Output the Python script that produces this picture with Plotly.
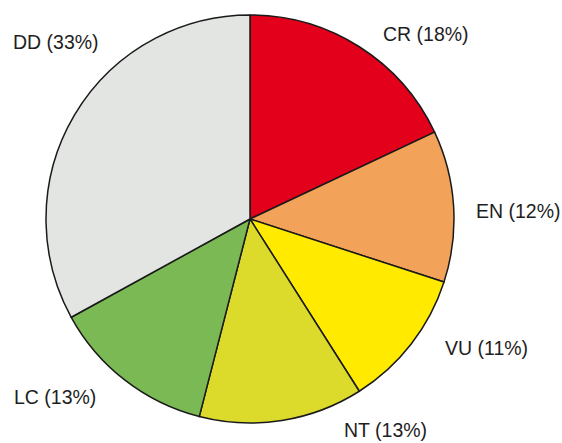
import plotly.graph_objects as go

categories = ["CR", "EN", "VU", "NT", "LC", "DD"]
values = [18, 12, 11, 13, 13, 33]
colors = ["#e3001b", "#f3a259", "#ffea00", "#dcdb2b", "#7bb954", "#e2e5e1"]

# label anchor positions (paper coords, from the reference layout)
label_pos = [(0.758, 0.923), (0.922, 0.524), (0.8665, 0.2145), (0.6868, 0.029), (0.0979, 0.104), (0.0996, 0.905)]

W, H = 562, 443
cx, cy, r = 250, 219, 204

fig = go.Figure(go.Pie(
    labels=categories,
    values=values,
    sort=False,
    direction="clockwise",
    rotation=0,
    marker=dict(colors=colors, line=dict(color="#1a1a1a", width=1.5)),
    textinfo="none",
    hoverinfo="label+percent",
    showlegend=False,
    domain=dict(x=[(cx - r) / W, (cx + r) / W], y=[(H - cy - r) / H, (H - cy + r) / H]),
))

total = sum(values)
for cat, v, (px, py) in zip(categories, values, label_pos):
    fig.add_annotation(
        x=px, y=py, xref="paper", yref="paper",
        text=f"{cat} ({round(100 * v / total)}%)",
        showarrow=False, xanchor="center", yanchor="middle",
        font=dict(family="Liberation Sans, Arial, sans-serif", size=19.5, color="#1e1e1e"),
    )

fig.update_layout(
    width=W, height=H,
    margin=dict(l=0, r=0, t=0, b=0),
    paper_bgcolor="white",
    plot_bgcolor="white",
)

fig.write_html(
    "out.html",
    config={"displayModeBar": False},
    post_script="document.body.style.margin='0';document.body.style.overflow='hidden';",
)
